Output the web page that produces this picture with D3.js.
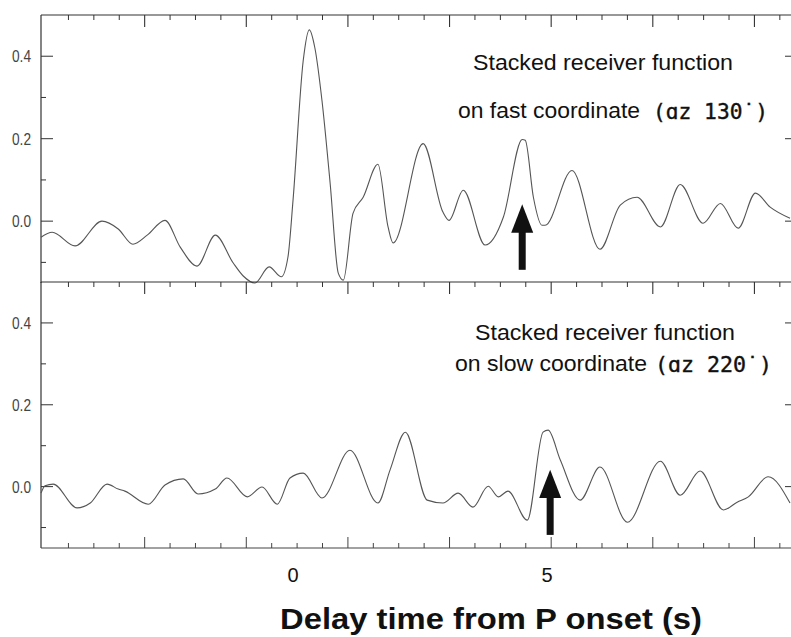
<!DOCTYPE html>
<html>
<head>
<meta charset="utf-8">
<script src="https://cdn.jsdelivr.net/npm/d3@7"></script>
<style>
  body { margin: 0; background: #fff; }
  svg { display: block; }
</style>
</head>
<body>
<div id="canvas"></div>
<script>
// Fast coordinate trace (az 130), time in s, amplitude
let timeFast = [-5.04, -4.82, -4.37, -3.84, -3.52, -3.23, -2.95, -2.60, -2.30, -1.97, -1.61, -1.26, -1.06, -0.83, -0.55, -0.31, -0.18, -0.08, 0.12, 0.24, 0.35, 0.49, 0.65, 0.81, 0.91, 1.10, 1.30, 1.59, 1.79, 1.89, 2.48, 2.87, 2.99, 3.27, 3.70, 4.06, 4.43, 4.49, 4.65, 4.82, 4.88, 5.41, 5.96, 6.36, 6.69, 7.15, 7.54, 7.99, 8.33, 8.68, 9.02, 9.31, 9.70];
let ampFast = [-0.039, -0.027, -0.060, 0.000, -0.019, -0.056, -0.034, 0.002, -0.063, -0.109, -0.034, -0.101, -0.133, -0.150, -0.111, -0.135, -0.087, 0.051, 0.389, 0.464, 0.420, 0.292, 0.092, -0.126, -0.143, 0.019, 0.058, 0.138, -0.014, -0.053, 0.188, 0.022, 0.002, 0.075, -0.058, 0.010, 0.198, 0.196, 0.058, -0.010, -0.010, 0.123, -0.068, 0.039, 0.058, -0.014, 0.089, -0.005, 0.043, -0.017, 0.068, 0.034, 0.007];

// Slow coordinate trace (az 220)
let timeSlow = [-5.04, -4.96, -4.80, -4.33, -4.07, -3.74, -3.52, -3.39, -2.93, -2.60, -2.24, -1.95, -1.61, -1.38, -0.98, -0.69, -0.39, -0.14, 0.12, 0.49, 1.04, 1.59, 1.83, 2.13, 2.56, 2.87, 3.17, 3.46, 3.76, 3.96, 4.15, 4.53, 4.84, 4.94, 5.18, 5.57, 5.96, 6.50, 7.15, 7.54, 7.93, 8.39, 8.66, 8.88, 9.27, 9.70];
let ampSlow = [-0.016, 0.002, 0.006, -0.052, -0.040, 0.006, -0.006, -0.011, -0.043, 0.004, 0.019, -0.018, -0.006, 0.021, -0.025, -0.001, -0.043, 0.021, 0.033, -0.028, 0.089, -0.040, 0.041, 0.133, -0.033, -0.040, -0.016, -0.050, 0.001, -0.025, -0.011, -0.082, 0.133, 0.138, 0.065, -0.033, 0.048, -0.087, 0.062, -0.021, 0.038, -0.057, -0.038, -0.025, 0.024, -0.040];

let xLabels = [0, 5];
let yLabels = [0.4, 0.2, 0.0];
let arrowTimes = [4.43, 4.98];
let arrowSpan = [-0.118, -0.028, 0.041]; // tail, head base, tip (amplitude units)

let panels = [
  {t: timeFast, a: ampFast, top: 15, bottom: 283, line1: "Stacked receiver function", line2: "on fast coordinate", az: "(\u0251z 130\u02d9)", arrow: arrowTimes[0]},
  {t: timeSlow, a: ampSlow, top: 282, bottom: 548, line1: "Stacked receiver function", line2: "on slow coordinate", az: "(\u0251z 220\u02d9)", arrow: arrowTimes[1]}
];

let width = 791, height = 637;
let left = 41, right = 790;

let x = d3.scaleLinear().domain([-5.04, 9.70]).range([left, right]);

let svg = d3.select("#canvas").append("svg")
  .attr("width", width)
  .attr("height", height);

let majorT = d3.range(-3, 10, 2);
let minorT = d3.range(-4.5, 9.7, 0.5).filter(function(t) { return Math.abs(((t + 3) % 2 + 2) % 2) > 0.01; });

// text positions per panel
let textPos = [
  {b1: 70, b2: 118, x1: 473, w1: 260, x2: 458, w2: 182, x3: 653, w3: 115},
  {b1: 340, b2: 371, x1: 475, w1: 260, x2: 455, w2: 192, x3: 655, w3: 117}
];

panels.forEach(function(p, k) {
  let y = d3.scaleLinear().domain([-0.15, 0.5]).range([p.bottom, p.top]);
  let g = svg.append("g");

  // left axis line
  g.append("line").attr("x1", left).attr("x2", left).attr("y1", p.top).attr("y2", p.bottom)
    .attr("stroke", "#333").attr("stroke-width", 1.2);
  // top border
  g.append("line").attr("x1", left).attr("x2", width).attr("y1", p.top).attr("y2", p.top)
    .attr("stroke", "#333").attr("stroke-width", 1.2);

  // top ticks pointing down
  g.selectAll(".tmaj").data(majorT).enter().append("line")
    .attr("x1", d => x(d)).attr("x2", d => x(d))
    .attr("y1", p.top).attr("y2", p.top + 12)
    .attr("stroke", "#333").attr("stroke-width", 1.1);
  g.selectAll(".tmin").data(minorT).enter().append("line")
    .attr("x1", d => x(d)).attr("x2", d => x(d))
    .attr("y1", p.top).attr("y2", p.top + 5)
    .attr("stroke", "#333").attr("stroke-width", 1);

  // left ticks
  g.selectAll(".ymaj").data([0.4, 0.2, 0.0]).enter().append("line")
    .attr("x1", left).attr("x2", left + 12)
    .attr("y1", d => y(d)).attr("y2", d => y(d))
    .attr("stroke", "#333").attr("stroke-width", 1);
  g.selectAll(".ymin").data([0.3, 0.1, -0.1]).enter().append("line")
    .attr("x1", left).attr("x2", left + 5)
    .attr("y1", d => y(d)).attr("y2", d => y(d))
    .attr("stroke", "#333").attr("stroke-width", 1);
  // right ticks
  g.selectAll(".rmaj").data([0.4, 0.2, 0.0]).enter().append("line")
    .attr("x1", width).attr("x2", width - 6)
    .attr("y1", d => y(d)).attr("y2", d => y(d))
    .attr("stroke", "#333").attr("stroke-width", 1);

  // y labels
  g.selectAll(".ylab").data(yLabels).enter().append("text")
    .attr("x", 31).attr("y", d => y(d) + 6)
    .attr("text-anchor", "end")
    .attr("font-family", "Liberation Sans, Arial, sans-serif")
    .attr("font-size", 16)
    .attr("fill", "#444")
    .attr("textLength", 19).attr("lengthAdjust", "spacingAndGlyphs")
    .text(d => d.toFixed(1));

  // trace
  let pts = p.t.map((t, i) => [t, p.a[i]]);
  let line = d3.line().x(d => x(d[0])).y(d => y(d[1])).curve(d3.curveMonotoneX);
  g.append("path").datum(pts)
    .attr("d", line)
    .attr("fill", "none")
    .attr("stroke", "#555")
    .attr("stroke-width", 1.1);

  // arrow
  let ax = x(p.arrow);
  g.append("rect")
    .attr("x", ax - 3.5).attr("width", 7)
    .attr("y", y(arrowSpan[1]) - 1).attr("height", y(arrowSpan[0]) - y(arrowSpan[1]) + 1)
    .attr("fill", "#111");
  g.append("path")
    .attr("d", "M" + (ax - 11) + "," + y(arrowSpan[1]) + "L" + (ax + 11) + "," + y(arrowSpan[1]) + "L" + ax + "," + y(arrowSpan[2]) + "Z")
    .attr("fill", "#111");

  // annotation text
  let tp = textPos[k];
  g.append("text").attr("x", tp.x1).attr("y", tp.b1)
    .attr("font-family", "Liberation Sans, Arial, sans-serif").attr("font-size", 22)
    .attr("fill", "#111")
    .attr("textLength", tp.w1).attr("lengthAdjust", "spacingAndGlyphs")
    .text(p.line1);
  g.append("text").attr("x", tp.x2).attr("y", tp.b2)
    .attr("font-family", "Liberation Sans, Arial, sans-serif").attr("font-size", 22)
    .attr("fill", "#111")
    .attr("textLength", tp.w2).attr("lengthAdjust", "spacingAndGlyphs")
    .text(p.line2);
  g.append("text").attr("x", tp.x3).attr("y", tp.b2 + 1)
    .attr("font-family", "DejaVu Sans Mono, monospace").attr("font-size", 21)
    .attr("fill", "#111")
    .attr("stroke", "#111").attr("stroke-width", 0.4)
    .attr("textLength", tp.w3).attr("lengthAdjust", "spacingAndGlyphs")
    .text(p.az);

  // bottom axis for lower panel
  if (k === 1) {
    g.append("line").attr("x1", left).attr("x2", width).attr("y1", p.bottom).attr("y2", p.bottom)
      .attr("stroke", "#444").attr("stroke-width", 1.1);
    g.selectAll(".bmaj").data(majorT).enter().append("line")
      .attr("x1", d => x(d)).attr("x2", d => x(d))
      .attr("y1", p.bottom).attr("y2", p.bottom - 11)
      .attr("stroke", "#444").attr("stroke-width", 1);
    g.selectAll(".bmin").data(minorT).enter().append("line")
      .attr("x1", d => x(d)).attr("x2", d => x(d))
      .attr("y1", p.bottom).attr("y2", p.bottom - 5)
      .attr("stroke", "#444").attr("stroke-width", 1);
  }
});

// x tick labels
svg.selectAll(".xlab").data(xLabels).enter().append("text")
  .attr("x", d => x(d) - 4).attr("y", 582)
  .attr("text-anchor", "middle")
  .attr("font-family", "Liberation Sans, Arial, sans-serif")
  .attr("font-size", 20)
  .attr("fill", "#111")
  .text(d => d);

// x axis title
svg.append("text")
  .attr("x", 280).attr("y", 629)
  .attr("font-family", "Liberation Sans, Arial, sans-serif")
  .attr("font-weight", "bold")
  .attr("font-size", 29)
  .attr("fill", "#111")
  .attr("textLength", 422).attr("lengthAdjust", "spacingAndGlyphs")
  .text("Delay time from P onset (s)");
</script>
</body>
</html>
